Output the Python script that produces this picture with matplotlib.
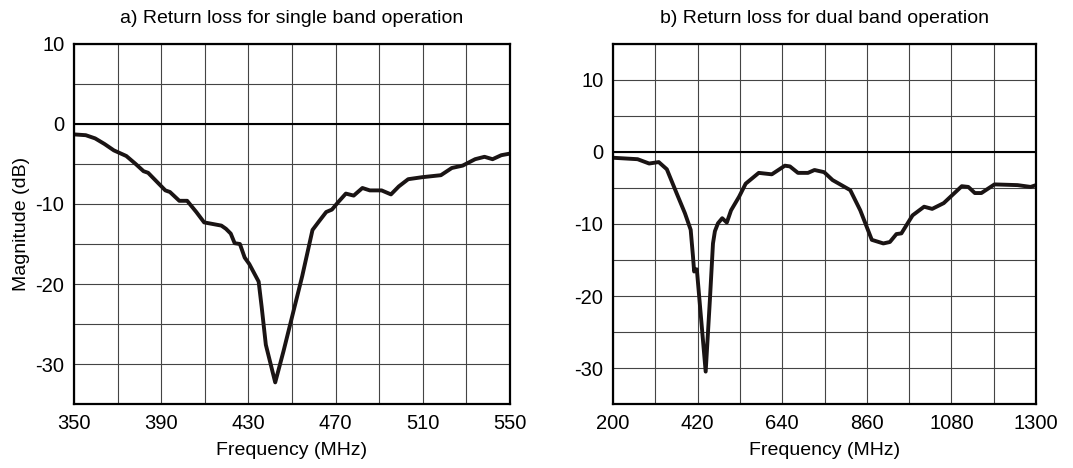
import numpy as np
import matplotlib
matplotlib.use("Agg")
import matplotlib.pyplot as plt

plt.rcParams['font.family'] = ['Liberation Sans', 'DejaVu Sans']
plt.rcParams['axes.unicode_minus'] = False

# a) single band
freq_a = [350, 355.4, 359.7, 364, 368.3, 374, 378.3, 381.9, 384, 388.3, 391.9, 394,
          398.3, 401.9, 406.1, 409.7, 417.6, 419.7, 421.9, 423.7, 426.1, 428.3, 430.4,
          434.7, 436.1, 438, 442.3, 446.1, 450.4, 454.7, 459.4, 462.3, 465.7, 468.3,
          471.4, 474.7, 478.3, 482.3, 485.7, 491.1, 495.4, 499, 503.3, 509.7, 518.3,
          523.3, 528.3, 534, 538.3, 542, 546, 550]
mag_a = [-1.3, -1.4, -1.8, -2.5, -3.3, -4.0, -5.0, -5.9, -6.1, -7.3, -8.3, -8.5, -9.6,
         -9.6, -11.0, -12.3, -12.7, -13.1, -13.7, -14.9, -15.0, -16.7, -17.5, -19.7,
         -22.9, -27.6, -32.3, -28.4, -23.7, -19.0, -13.25, -12.2, -11.0, -10.7, -9.7,
         -8.7, -8.95, -8.0, -8.3, -8.3, -8.8, -7.8, -6.9, -6.65, -6.4, -5.5, -5.2,
         -4.4, -4.1, -4.4, -3.9, -3.7]

# b) dual band
freq_b = [200, 264, 294, 319, 340, 366, 387, 402, 408, 411, 414, 418, 441, 452, 460,
          465, 473, 484, 496, 507, 528, 545, 579, 613, 647, 660, 681, 707, 724, 749,
          771, 817, 843, 873, 903, 920, 937, 950, 979, 1009, 1030, 1060, 1082, 1107,
          1124, 1141, 1158, 1192, 1252, 1286, 1300]
mag_b = [-0.8, -1.0, -1.6, -1.4, -2.4, -5.8, -8.5, -10.8, -14.5, -16.6, -16.3, -16.3,
         -30.5, -20.5, -12.7, -11.0, -9.9, -9.2, -9.8, -8.1, -6.2, -4.4, -2.9, -3.1,
         -1.9, -2.0, -2.9, -2.9, -2.5, -2.8, -3.9, -5.3, -8.1, -12.2, -12.7, -12.5,
         -11.4, -11.3, -8.8, -7.6, -7.9, -7.1, -6.0, -4.75, -4.85, -5.7, -5.7, -4.5,
         -4.6, -4.85, -4.6]

xticks_a = [350, 390, 430, 470, 510, 550]
xticks_b = [200, 420, 640, 860, 1080, 1300]
yticks_a = [-30, -20, -10, 0, 10]
yticks_b = [-30, -20, -10, 0, 10]

W, H = 1073, 468
fig = plt.figure(figsize=(W / 100, H / 100), dpi=100)
ax1 = fig.add_axes([74 / W, 64 / H, 436 / W, 360 / H])
ax2 = fig.add_axes([613 / W, 64 / H, 423 / W, 360 / H])

def style(ax, xlim, ylim, xt, xstep, yt, title):
    ax.set_xlim(*xlim)
    ax.set_ylim(*ylim)
    ax.set_xticks(xt)
    ax.set_xticks(np.arange(xlim[0], xlim[1] + 1, xstep), minor=True)
    ax.set_yticks(yt)
    ax.set_yticks(np.arange(-35, ylim[1] + 1, 5), minor=True)
    ax.grid(True, which='both', color='#444444', linewidth=0.8)
    ax.axhline(0, color='black', linewidth=1.5, zorder=2)
    ax.tick_params(which='both', length=0, labelsize=14.5, pad=7)
    for s in ax.spines.values():
        s.set_linewidth(1.6)
        s.set_zorder(5)
    ax.set_xlabel('Frequency (MHz)', fontsize=14, labelpad=7)
    ax.set_title(title, fontsize=14, pad=15)

style(ax1, (350, 550), (-34.5, 10), xticks_a, 20, yticks_a,
      'a) Return loss for single band operation')
style(ax2, (200, 1300), (-35, 15), xticks_b, 110, yticks_b,
      'b) Return loss for dual band operation')
ax1.set_ylabel('Magnitude (dB)', fontsize=14, labelpad=4)

ax1.plot(freq_a, mag_a, color='#1a1414', linewidth=2.8, zorder=4)
ax2.plot(freq_b, mag_b, color='#1a1414', linewidth=2.8, zorder=4)

fig.savefig('out.png', dpi=100)
